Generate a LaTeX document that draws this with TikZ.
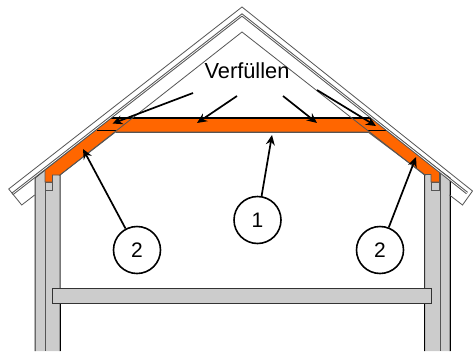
\documentclass[tikz,border=0pt]{standalone}
\usepackage{fontspec}
\setmainfont{Liberation Sans}
\usetikzlibrary{arrows.meta}
\tikzset{
  wall/.style={fill=wallgray,draw=wallline,line width=1pt},
  thin roof/.style={draw=roofline,line width=0.8pt},
  roofband/.style={draw=roofline,double=white,double distance=0.7pt,line width=1pt},
  pointer/.style={draw=black,line width=1.7pt,-{Stealth[length=10pt,width=9pt]}},
  callout/.style={circle,draw=black,fill=white,line width=1.6pt,minimum size=47pt,inner sep=0pt,font=\fontsize{21}{21}\selectfont},
  orangebody/.style={fill=fillorange,draw=roofline,line width=0.8pt},
  crossline/.style={draw=black,line width=1pt}
}
\definecolor{wallgray}{HTML}{CCCCCC}
\definecolor{wallline}{HTML}{333333}
\definecolor{roofline}{HTML}{555555}
\definecolor{fillorange}{HTML}{FF6600}
\begin{document}
\begin{tikzpicture}[x=1pt,y=-1pt]
\useasboundingbox (0,0) rectangle (473,351);
\fill[white] (0,0) rectangle (473,351);
% walls
\draw[wall] (35,351) -- (35,178) -- (45,170) -- (60,175) -- (60,351);
\draw[wall] (424.5,351) -- (424.5,175) -- (439,170) -- (450,178) -- (450,351);
\draw[roofline,line width=1pt] (45,170) -- (45,351);
\draw[roofline,line width=1pt] (440,170) -- (440,351);
\draw[black,line width=1pt] (60,304) -- (60,351);
\draw[black,line width=1pt] (424.5,304) -- (424.5,351);
\draw[black,line width=1pt] (450,180) -- (450,351);
% small blocks under orange
\draw[wall,draw=roofline] (45,182) rectangle (52.5,190.5);
\draw[wall,draw=roofline] (431,182) rectangle (439.5,190.5);
% orange insulation
\draw[orangebody] (45,170) -- (111,118) -- (373,118) -- (439.5,170) -- (439.5,182) -- (431,182) -- (431,174.5) -- (424.5,174.5) -- (368,132) -- (115.5,132) -- (60,175) -- (52.5,175) -- (52.5,182) -- (45,182) -- cycle;
% beam lines
\draw[crossline,line width=1.4pt] (111,118) -- (373,118);
\draw[crossline] (97,130.5) -- (116,130.5);
\draw[crossline] (368,130.5) -- (387,130.5);
\draw[roofline,line width=1.4pt] (115.5,132.7) -- (368,132.7);
% inner roof line
\draw[thin roof] (60,175) -- (242,32) -- (424.5,175);
% roof layers
\draw[roofband] (12.3,194) -- (242,15) -- (467,193);
\draw[thin roof] (34.7,195) -- (21.7,205) -- (8.7,189) -- (242,7) -- (472.5,191) -- (462.5,205) -- (449.5,195);
% floor
\draw[wall] (52.3,288.7) rectangle (431.7,303.3);
% labels
\node (fill) at (247,71) {\fontsize{21.8}{21.8}\selectfont Verfüllen};
\node[callout] (c1) at (257.5,220) {1};
\node[callout] (c2l) at (137,250) {2};
\node[callout] (c2r) at (380,250) {2};
% arrow ends
\coordinate (a1s) at (193,93);
\coordinate (a1e) at (112.5,123.5);
\coordinate (a2s) at (237,96);
\coordinate (a2e) at (197,123);
\coordinate (a3s) at (283,96);
\coordinate (a3e) at (317,123);
\coordinate (a4s) at (317,90);
\coordinate (a4e) at (376,126);
\coordinate (t1) at (272,135);
\coordinate (t2l) at (83,149);
\coordinate (t2r) at (416,157);
\draw[pointer] (a1s) -- (a1e);
\draw[pointer] (a2s) -- (a2e);
\draw[pointer] (a3s) -- (a3e);
\draw[pointer] (a4s) -- (a4e);
\draw[pointer] (c1) -- (t1);
\draw[pointer] (c2l) -- (t2l);
\draw[pointer] (c2r) -- (t2r);
\end{tikzpicture}
\end{document}
